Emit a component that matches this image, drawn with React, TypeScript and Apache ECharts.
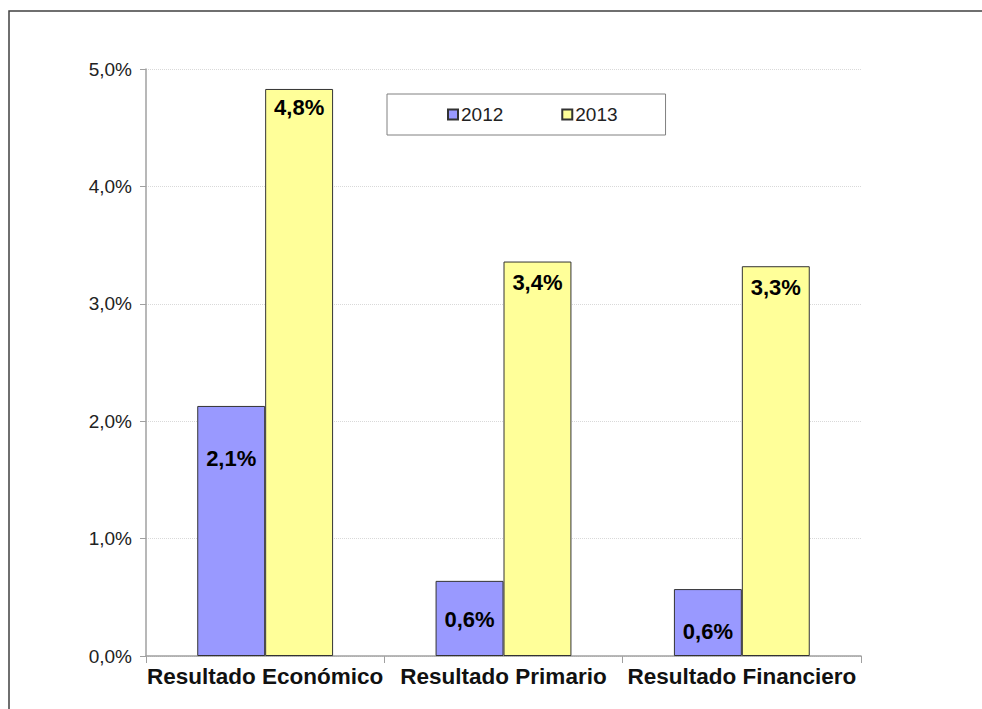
import React, { useEffect, useRef } from "react";
import * as echarts from "echarts";

const categories = ["Resultado Económico", "Resultado Primario", "Resultado Financiero"];
const seriesNames = ["2012", "2013"];
const values2012 = [2.13, 0.64, 0.57];
const values2013 = [4.83, 3.36, 3.32];
const yTicks = [0, 1, 2, 3, 4, 5];

const fmt = (v: number) => v.toFixed(1).replace(".", ",") + "%";

export default function App() {
  const ref = useRef<HTMLDivElement>(null);
  useEffect(() => {
    document.body.style.margin = "0";
    const chart = echarts.init(ref.current!, null, { renderer: "svg" });
    const font = "Arial, 'Liberation Sans', sans-serif";
    const blueDist = [42, 28, 31];
    const yellowDist = [8, 10, 10];
    chart.setOption({
      animation: false,
      backgroundColor: "#ffffff",
      textStyle: { fontFamily: font },
      graphic: [
        {
          type: "rect",
          shape: { x: 9, y: 11, width: 1100, height: 1000 },
          style: { fill: "none", stroke: "#404040", lineWidth: 1.5 },
          silent: true,
        },
      ],
      grid: { left: 146, right: 121, top: 69, bottom: 53 },
      legend: {
        left: 387,
        top: 94,
        padding: [11, 48, 11, 60],
        borderColor: "#808080",
        borderWidth: 1,
        backgroundColor: "#ffffff",
        itemWidth: 10,
        itemHeight: 10,
        itemGap: 58,
        icon: "rect",
        textStyle: { fontSize: 19, color: "#222", fontFamily: font, padding: [0, 0, 0, -2] },
        data: seriesNames,
      },
      xAxis: {
        type: "category",
        data: categories,
        axisLine: { lineStyle: { color: "#a0a0a0", width: 1.5 } },
        axisTick: { show: true, length: 7, lineStyle: { color: "#a0a0a0" } },
        axisLabel: {
          interval: 0,
          fontSize: 22.5,
          fontWeight: "bold",
          color: "#111",
          margin: 9,
          fontFamily: font,
        },
      },
      yAxis: {
        type: "value",
        min: yTicks[0],
        max: yTicks[yTicks.length - 1],
        interval: 1,
        axisLine: { show: true, lineStyle: { color: "#a0a0a0", width: 1.5 } },
        axisTick: { show: true, length: 6, lineStyle: { color: "#a0a0a0" } },
        axisLabel: {
          fontSize: 19,
          color: "#222",
          margin: 14,
          fontFamily: font,
          formatter: (v: number) => fmt(v),
        },
        splitLine: { lineStyle: { color: "#d9d9d9", type: "dotted" } },
      },
      series: [
        {
          name: seriesNames[0],
          type: "bar",
          barGap: "0%",
          barCategoryGap: "43%",
          itemStyle: { color: "#9999ff", borderColor: "#333", borderWidth: 1 },
          data: values2012.map((v, i) => ({
            value: v,
            label: { distance: blueDist[i] },
          })),
          label: {
            show: true,
            position: "insideTop",
            fontSize: 22,
            fontWeight: "bold",
            color: "#000",
            fontFamily: font,
            formatter: (p: any) => fmt(p.value),
          },
        },
        {
          name: seriesNames[1],
          type: "bar",
          barGap: "0%",
          barCategoryGap: "43%",
          itemStyle: { color: "#ffff99", borderColor: "#333", borderWidth: 1 },
          data: values2013.map((v, i) => ({
            value: v,
            label: { distance: yellowDist[i] },
          })),
          label: {
            show: true,
            position: "insideTop",
            fontSize: 22,
            fontWeight: "bold",
            color: "#000",
            fontFamily: font,
            formatter: (p: any) => fmt(p.value),
          },
        },
      ],
    });
    return () => chart.dispose();
  }, []);
  return <div ref={ref} style={{ width: 982, height: 709 }} />;
}
